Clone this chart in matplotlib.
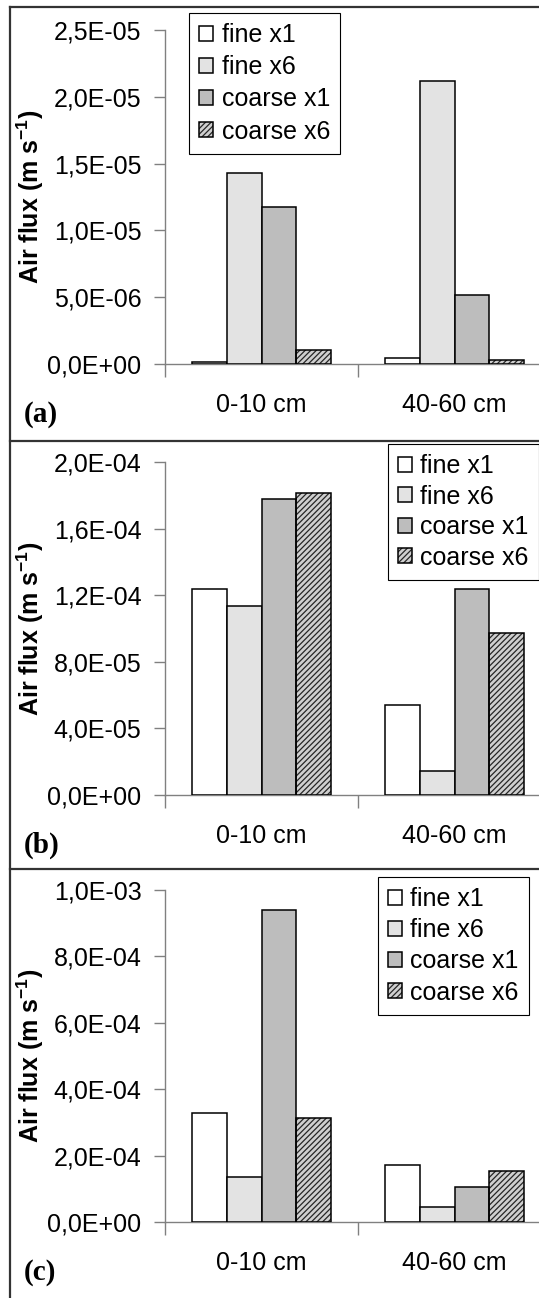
import matplotlib
matplotlib.use("Agg")
import matplotlib.pyplot as plt
from matplotlib.patches import Patch
from matplotlib.lines import Line2D
from matplotlib.ticker import FuncFormatter
import numpy as np

# ---- data ----
categorias = ["0-10 cm", "40-60 cm"]
series = ["fine x1", "fine x6", "coarse x1", "coarse x6"]

fluxo_a = [[1.5e-7, 4.7e-7],
           [1.427e-5, 2.12e-5],
           [1.177e-5, 5.14e-6],
           [1.04e-6, 3.2e-7]]
fluxo_b = [[1.238e-4, 5.38e-5],
           [1.134e-4, 1.42e-5],
           [1.778e-4, 1.238e-4],
           [1.814e-4, 9.72e-5]]
fluxo_c = [[3.29e-4, 1.71e-4],
           [1.35e-4, 4.6e-5],
           [9.40e-4, 1.06e-4],
           [3.12e-4, 1.53e-4]]

ymax_a, passo_a = 2.5e-5, 5e-6
ymax_b, passo_b = 2.0e-4, 4e-5
ymax_c, passo_c = 1.0e-3, 2e-4

# ---- estilo ----
W, H = 539, 1298
plt.rcParams['font.family'] = ['Liberation Sans', 'DejaVu Sans']
plt.rcParams['mathtext.fontset'] = 'custom'
plt.rcParams['mathtext.rm'] = 'Liberation Sans:bold'
plt.rcParams['mathtext.bf'] = 'Liberation Sans:bold'
plt.rcParams['hatch.linewidth'] = 0.9

cores = ['#ffffff', '#e3e3e3', '#bdbdbd', '#cfcfcf']
hachuras = [None, None, None, '//////']
cor_hachura = '#262626'
cinza = '#808080'
fs = 18

fig = plt.figure(figsize=(W / 100, H / 100), dpi=100)

# paineis: (dados, ymax, passo, y do topo, y do zero, legenda x, legenda y, espacamento, rotulo)
paineis = [
    (fluxo_a, ymax_a, passo_a, 30, 364, 189, 13, 0.33, "(a)"),
    (fluxo_b, ymax_b, passo_b, 462, 795, 388, 444, 0.26, "(b)"),
    (fluxo_c, ymax_c, passo_c, 890, 1222, 378, 877, 0.29, "(c)"),
]

largura = 0.181
desloc = (np.arange(4) - 1.5) * largura
x = np.arange(len(categorias))

fmt = FuncFormatter(lambda v, p: f"{v:.1E}".replace('.', ','))

for dados, ymax, passo, ytop, y0, lx, ly, lsp, rot in paineis:
    ax = fig.add_axes([165 / W, 1 - y0 / H, 386 / W, (y0 - ytop) / H])
    handles = []
    for i in range(4):
        if hachuras[i]:
            ax.bar(x + desloc[i], dados[i], largura, color=cores[i],
                   hatch=hachuras[i], edgecolor=cor_hachura, linewidth=0, zorder=2)
            ax.bar(x + desloc[i], dados[i], largura, fill=False,
                   edgecolor='black', linewidth=1.1, zorder=3)
            h = (Patch(facecolor=cores[i], hatch=hachuras[i], edgecolor=cor_hachura, linewidth=0),
                 Patch(fill=False, edgecolor='black', linewidth=1.1))
        else:
            ax.bar(x + desloc[i], dados[i], largura, color=cores[i],
                   edgecolor='black', linewidth=1.1, zorder=3)
            h = Patch(facecolor=cores[i], edgecolor='black', linewidth=1.1)
        handles.append(h)

    ax.set_xlim(-0.5, 1.5)
    ax.set_ylim(0, ymax)
    ax.set_yticks(np.arange(0, ymax + passo / 2, passo))
    ax.yaxis.set_major_formatter(fmt)
    ax.set_xticks(x)
    ax.set_xticklabels(categorias)
    ax.set_xticks([-0.5, 0.5, 1.5], minor=True)
    ax.tick_params(axis='x', which='major', length=0, pad=21, labelsize=fs)
    ax.tick_params(axis='x', which='minor', length=9, width=1, color=cinza, direction='out')
    ax.tick_params(axis='y', length=8, width=1, color=cinza, direction='out', pad=9, labelsize=fs)
    for s in ['top', 'right']:
        ax.spines[s].set_visible(False)
    for s in ['left', 'bottom']:
        ax.spines[s].set_color(cinza)
        ax.spines[s].set_linewidth(1)
    ax.set_ylabel(r"Air flux (m s$^{-1}$)", fontsize=18, fontweight='bold')
    ax.yaxis.set_label_coords(46 / W, 1 - (ytop + y0) / 2 / H, transform=fig.transFigure)
    ax.patch.set_visible(False)

    leg = ax.legend(handles, series, loc='upper left', bbox_to_anchor=(lx / W, 1 - ly / H),
                    bbox_transform=fig.transFigure, borderaxespad=0, fontsize=fs,
                    frameon=True, fancybox=False, shadow=False, framealpha=1,
                    handlelength=0.55, handleheight=0.55, handletextpad=0.35,
                    borderpad=0.4, labelspacing=lsp)
    leg.get_frame().set_edgecolor('black')
    leg.get_frame().set_linewidth(0.8)

    fig.text(24 / W, 1 - (y0 + 50) / H, rot, fontsize=21, fontweight='bold',
             family=['Liberation Serif', 'DejaVu Serif'], ha='left', va='center')

# moldura externa
cor_moldura = '#333333'
fig.add_artist(Line2D([10 / W, 10 / W], [1 - 7 / H, 0], color=cor_moldura, lw=1.6,
                      transform=fig.transFigure))
for yl in [7, 441, 869]:
    fig.add_artist(Line2D([10 / W, 1], [1 - yl / H, 1 - yl / H], color=cor_moldura, lw=1.6,
                          transform=fig.transFigure))

fig.savefig("out.png", dpi=100)
